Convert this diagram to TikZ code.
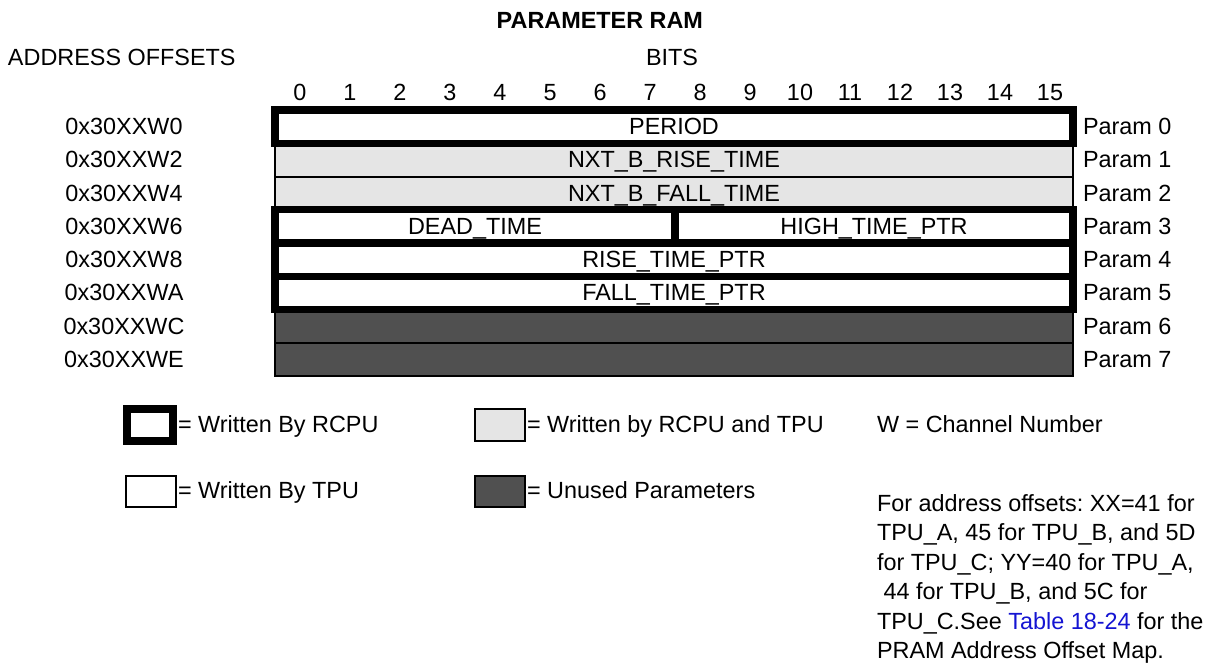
\documentclass[tikz,border=0pt]{standalone}
\usepackage{fontspec}
\setmainfont{Liberation Sans}
\frenchspacing
\definecolor{lightcell}{RGB}{229,229,229}
\definecolor{darkcell}{RGB}{80,80,80}
\definecolor{linkblue}{RGB}{20,20,210}
\newcommand\lblfont{\fontsize{11.7}{15.65}\selectfont}
\begin{document}
\begin{tikzpicture}[x=0.5pt,y=-0.5pt,
  lab/.style={font=\lblfont, inner sep=0pt, outer sep=0pt},
  thinline/.style={line width=1pt, draw=black},
  thickbox/.style={line width=3.6pt, draw=black},
  legthick/.style={line width=3.9pt, draw=black}]
\useasboundingbox (0,0) rectangle (1210,665);

% titles
\node[lab, font=\lblfont\bfseries, anchor=base east] (title) at (703,28) {PARAMETER RAM};
\node[lab, anchor=base west] (addr) at (8,65) {ADDRESS OFFSETS};
\node[lab, anchor=base] (bits) at (672,65) {BITS};

% bit numbers
\foreach \i in {0,...,15} {
  \node[lab, anchor=base] (bit\i) at ({300+50*\i},100) {\i};
}

% shaded rows
\draw[thinline, fill=lightcell] (275,143.25) rectangle (1073,209.75);
\draw[thinline] (275,176.5) -- (1073,176.5);
\draw[thinline, fill=darkcell] (275,309.5) rectangle (1073,376);
\draw[thinline] (275,342.75) -- (1073,342.75);

% RCPU-written cells
\draw[thickbox, fill=white] (275,110) rectangle (1073,143.25);
\draw[thickbox, fill=white] (275,209.75) rectangle (675,243);
\draw[thickbox, fill=white] (675,209.75) rectangle (1073,243);
\draw[thickbox, fill=white] (275,243) rectangle (1073,276.25);
\draw[thickbox, fill=white] (275,276.25) rectangle (1073,309.5);

% cell texts
\node[lab, anchor=base] (period) at (674,134.6) {PERIOD};
\node[lab, anchor=base] (nrise) at (674,167.9) {NXT\_B\_RISE\_TIME};
\node[lab, anchor=base] (nfall) at (674,201.1) {NXT\_B\_FALL\_TIME};
\node[lab, anchor=base] (dead) at (475,234.4) {DEAD\_TIME};
\node[lab, anchor=base] (high) at (874,234.4) {HIGH\_TIME\_PTR};
\node[lab, anchor=base] (rise) at (674,267.6) {RISE\_TIME\_PTR};
\node[lab, anchor=base] (fall) at (674,300.9) {FALL\_TIME\_PTR};

% address offsets
\node[lab, anchor=base] (a0) at (124,134.6) {0x30XXW0};
\node[lab, anchor=base] (a1) at (124,167.9) {0x30XXW2};
\node[lab, anchor=base] (a2) at (124,201.1) {0x30XXW4};
\node[lab, anchor=base] (a3) at (124,234.4) {0x30XXW6};
\node[lab, anchor=base] (a4) at (124,267.6) {0x30XXW8};
\node[lab, anchor=base] (a5) at (124,300.9) {0x30XXWA};
\node[lab, anchor=base] (a6) at (124,334.1) {0x30XXWC};
\node[lab, anchor=base] (a7) at (124,367.4) {0x30XXWE};

% param labels
\node[lab, anchor=base west] (p0) at (1083,134.6) {Param 0};
\node[lab, anchor=base west] (p1) at (1083,167.9) {Param 1};
\node[lab, anchor=base west] (p2) at (1083,201.1) {Param 2};
\node[lab, anchor=base west] (p3) at (1083,234.4) {Param 3};
\node[lab, anchor=base west] (p4) at (1083,267.6) {Param 4};
\node[lab, anchor=base west] (p5) at (1083,300.9) {Param 5};
\node[lab, anchor=base west] (p6) at (1083,334.1) {Param 6};
\node[lab, anchor=base west] (p7) at (1083,367.4) {Param 7};

% legend
\draw[legthick, fill=white] (127,409) rectangle (173,441);
\node[lab, anchor=base west] (lrcpu) at (178,432) {= Written By RCPU};
\draw[thinline, fill=white] (126,476) rectangle (176,507);
\node[lab, anchor=base west] (ltpu) at (178,498) {= Written By TPU};
\draw[thinline, fill=lightcell] (475,409) rectangle (525,441);
\node[lab, anchor=base west] (lboth) at (527,432) {= Written by RCPU and TPU};
\draw[thinline, fill=darkcell] (475,476) rectangle (525,507);
\node[lab, anchor=base west] (lunused) at (527,498) {= Unused Parameters};

% notes
\node[lab, anchor=base west] (wnote) at (877,432) {W = Channel Number};
\node[lab, anchor=base west] (n1) at (877,511) {For address offsets: XX=41 for};
\node[lab, anchor=base west] (n2) at (877,540.6) {TPU\_A, 45 for TPU\_B, and 5D};
\node[lab, anchor=base west] (n3) at (877,570.2) {for TPU\_C; YY=40 for TPU\_A,};
\node[lab, anchor=base west] (n4) at (877,599.8) {\hspace{0.278em}44 for TPU\_B, and 5C for};
\node[lab, anchor=base west] (n5) at (877,629.4) {TPU\_C.See \textcolor{linkblue}{Table 18-24} for the};
\node[lab, anchor=base west] (n6) at (877,658.5) {PRAM Address Offset Map.};
\end{tikzpicture}
\end{document}
